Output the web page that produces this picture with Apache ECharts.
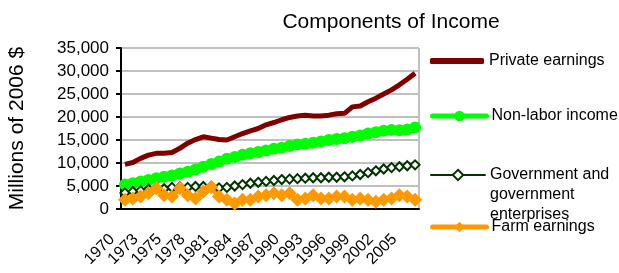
<!DOCTYPE html>
<html>
<head>
<meta charset="utf-8">
<script src="https://cdn.jsdelivr.net/npm/echarts@6/dist/echarts.min.js"></script>
<style>
  html, body { margin: 0; padding: 0; background: #fff; }
  #main { width: 619px; height: 273px; }
</style>
</head>
<body>
<div id="main"></div>
<script>
// year labels as they read on the axis (every third one is shown)
var years = ['1970','1971','1972','1973','1974','1974','1975','1976','1977','1978',
  '1979','1980','1981','1982','1983','1984','1985','1986','1987','1988',
  '1989','1990','1991','1992','1993','1994','1995','1996','1997','1998',
  '1999','2000','2001','2002','2003','2004','2005','2006'];

var privateEarnings = [9700, 10100, 11000, 11700, 12100, 12100, 12300, 13200, 14300, 15100,
  15700, 15400, 15100, 15000, 15700, 16400, 17000, 17500, 18300, 18800,
  19400, 19900, 20200, 20400, 20200, 20200, 20400, 20700, 20800, 22200,
  22400, 23300, 24100, 25000, 25900, 27000, 28200, 29500];

var nonLabor = [5300, 5600, 6000, 6300, 6700, 7000, 7300, 7700, 8100, 8600,
  9200, 9800, 10300, 10900, 11300, 11800, 12100, 12400, 12700, 13100,
  13300, 13700, 14000, 14200, 14400, 14700, 15000, 15200, 15400, 15700,
  16000, 16400, 16700, 17000, 17200, 17100, 17300, 17700];

var government = [3500, 3800, 4000, 4300, 4500, 4400, 4700, 4800, 4700, 4900,
  4900, 4900, 4600, 4700, 5000, 5300, 5600, 5800, 6000, 6200,
  6400, 6500, 6600, 6700, 6800, 6800, 6900, 6900, 7000, 7200,
  7500, 7900, 8300, 8700, 9000, 9200, 9400, 9600];

var farm = [2000, 2300, 2700, 3400, 4500, 3000, 2700, 4500, 3000, 2300,
  3800, 4800, 2700, 2000, 1200, 2000, 2000, 2700, 3000, 3400,
  3000, 3400, 2000, 2300, 3000, 2300, 2300, 2700, 2700, 2000,
  2300, 2000, 1600, 2000, 2300, 3000, 2700, 2000];

var yTicks = [0, 5000, 10000, 15000, 20000, 25000, 30000, 35000];

var govName = 'Government and\ngovernment\nenterprises';

var myChart = echarts.init(document.getElementById('main'));
var font = 'Liberation Sans, Arial, sans-serif';

function legendAt(item, top, h) {
  return {
    data: [item],
    orient: 'vertical',
    left: 430,
    top: top,
    itemWidth: 54,
    itemHeight: h || 13,
    padding: 0,
    selectedMode: false,
    lineStyle: { width: 'inherit', cap: 'round' },
    textStyle: { fontFamily: font, fontSize: 16, color: '#000', lineHeight: 20 },
    // pad the wrapped name so the icon lines up with its first line
    formatter: function (n) { return n === govName ? '\n\n' + n : n; }
  };
}

myChart.setOption({
  animation: false,
  title: {
    text: 'Components of Income',
    left: 386,
    textAlign: 'center',
    top: 7,
    textStyle: { fontFamily: font, fontSize: 21, fontWeight: 'normal', color: '#000' }
  },
  legend: [
    legendAt({ name: 'Private earnings', icon: 'roundRect' }, 51, 6),
    legendAt('Non-labor income', 106),
    legendAt(govName, 125),
    legendAt('Farm earnings', 217)
  ],
  grid: { left: 121, right: 200, top: 48, bottom: 64, outerBoundsMode: 'none' },
  xAxis: {
    type: 'category',
    data: years,
    boundaryGap: true,
    axisLine: { lineStyle: { color: '#000', width: 2 } },
    axisTick: { interval: 0, length: 5, lineStyle: { color: '#000', width: 2 } },
    axisLabel: {
      interval: 2,
      rotate: 45,
      margin: 15,
      padding: [0, 18, 0, 0],
      lineHeight: 14,
      showMinLabel: true,
      hideOverlap: false,
      fontFamily: font,
      fontSize: 16,
      color: '#000'
    },
    splitLine: { show: false }
  },
  yAxis: {
    type: 'value',
    min: yTicks[0],
    max: yTicks[yTicks.length - 1],
    interval: 5000,
    name: 'Millions of 2006 $',
    nameLocation: 'middle',
    nameGap: 93,
    nameTextStyle: { fontFamily: font, fontSize: 21, color: '#000' },
    axisLine: { show: true, lineStyle: { color: '#000', width: 2 } },
    axisTick: { show: true, length: 5, lineStyle: { color: '#000', width: 2 } },
    axisLabel: {
      margin: 12,
      fontFamily: font,
      fontSize: 17,
      color: '#000',
      formatter: function (v) { return v.toLocaleString('en-US'); }
    },
    splitLine: { lineStyle: { color: '#c0c0c0', width: 2 } }
  },
  series: [
    {
      name: 'Private earnings',
      type: 'line',
      data: privateEarnings,
      symbol: 'none',
      lineStyle: { color: '#800000', width: 5 },
      itemStyle: { color: '#800000' }
    },
    {
      name: 'Non-labor income',
      type: 'line',
      data: nonLabor,
      symbol: 'circle',
      symbolSize: 12,
      showAllSymbol: true,
      lineStyle: { color: '#00ff00', width: 5 },
      itemStyle: { color: '#00ff00' }
    },
    {
      name: govName,
      type: 'line',
      data: government,
      symbol: 'diamond',
      symbolSize: 9,
      showAllSymbol: true,
      lineStyle: { color: '#003300', width: 2 },
      itemStyle: { color: '#ffffff', borderColor: '#003300', borderWidth: 2 }
    },
    {
      name: 'Farm earnings',
      type: 'line',
      data: farm,
      symbol: 'diamond',
      symbolSize: 14,
      showAllSymbol: true,
      lineStyle: { color: '#ff9900', width: 5 },
      itemStyle: { color: '#ff9900' }
    }
  ],
  graphic: [
    { type: 'line', shape: { x1: 121, y1: 48, x2: 419, y2: 48 }, style: { stroke: '#808080', lineWidth: 1 } },
    { type: 'line', shape: { x1: 419, y1: 48, x2: 419, y2: 209 }, style: { stroke: '#808080', lineWidth: 1 } }
  ]
});
</script>
</body>
</html>
